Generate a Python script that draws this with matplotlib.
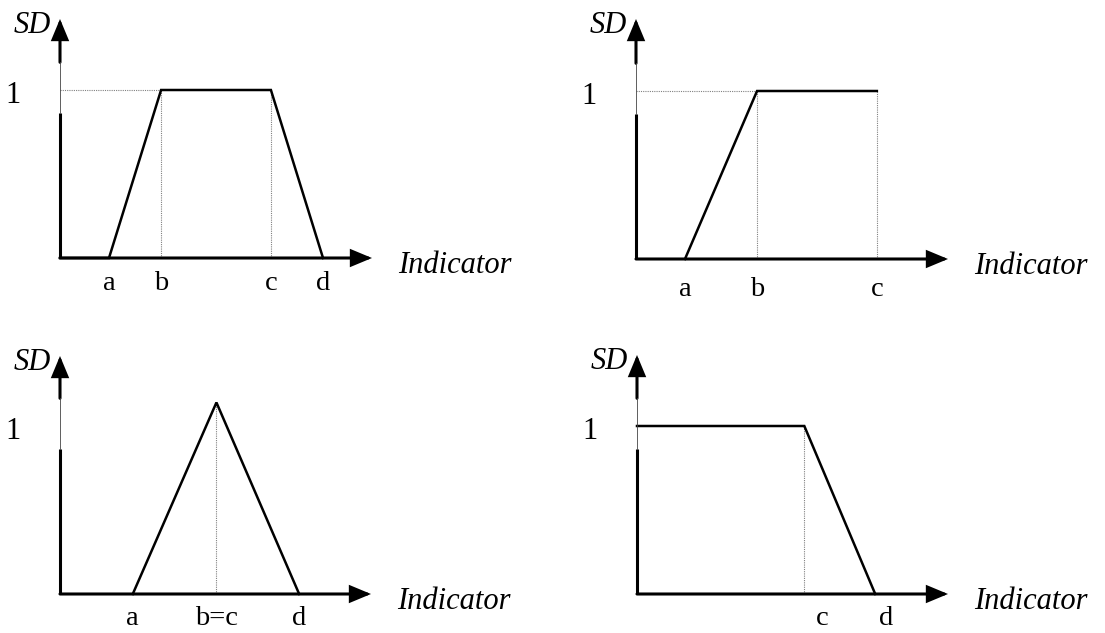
import matplotlib
matplotlib.use("Agg")
import matplotlib.pyplot as plt
from matplotlib.patches import FancyArrowPatch

plt.rcParams['font.family'] = ['Liberation Serif', 'DejaVu Serif']

# ---------------- data (x in axis units 0..10, y: membership, 1 = "1") -------------
# Panel 1: trapezoid
p1_x = [0.0, 1.57, 3.24, 6.76, 8.43]
p1_y = [0.0, 0.0, 1.0, 1.0, 0.0]
p1_ticks = [1.57, 3.24, 6.76, 8.43]
p1_labels = ['a', 'b', 'c', 'd']
p1_drop = [3.24, 6.76]          # dotted verticals
p1_hguide = 3.24                # dotted horizontal to b

# Panel 2: rising ramp then plateau
p2_x = [1.57, 3.88, 7.72]
p2_y = [0.0, 1.0, 1.0]
p2_ticks = [1.57, 3.88, 7.72]
p2_labels = ['a', 'b', 'c']
p2_drop = [3.88, 7.72]
p2_hguide = 3.88

# Panel 3: triangle
p3_x = [2.34, 5.03, 7.69]
p3_y = [0.0, 1.14, 0.0]
p3_ticks = [2.34, 5.03, 7.69]
p3_labels = ['a', 'b=c', 'd']
p3_drop = [5.03]
p3_hguide = None

# Panel 4: plateau then falling ramp
p4_x = [0.0, 5.38, 7.66]
p4_y = [1.0, 1.0, 0.0]
p4_ticks = [5.38, 7.66]
p4_labels = ['c', 'd']
p4_label_shift = [18, 11]       # label offsets (px) seen in the picture
p4_drop = [5.38]
p4_hguide = None

panels = [
    dict(x=p1_x, y=p1_y, ticks=p1_ticks, labels=p1_labels, drop=p1_drop,
         hguide=p1_hguide, shift=None),
    dict(x=p2_x, y=p2_y, ticks=p2_ticks, labels=p2_labels, drop=p2_drop,
         hguide=p2_hguide, shift=None),
    dict(x=p3_x, y=p3_y, ticks=p3_ticks, labels=p3_labels, drop=p3_drop,
         hguide=p3_hguide, shift=None),
    dict(x=p4_x, y=p4_y, ticks=p4_ticks, labels=p4_labels, drop=p4_drop,
         hguide=p4_hguide, shift=p4_label_shift),
]

# ---------------- layout (pixels) ----------------
W, H = 1105, 633
DPI = 100
PX = 72.0 / DPI   # points per pixel
UNIT_PX = 168     # pixels per membership unit
# origin x, origin y, arrow tip x, arrow tip y, tick-label gap
frames = [
    (60, 258, 372, 19, 32),
    (636, 259, 948, 19, 37),
    (60, 594, 371, 356, 31),
    (637, 594, 948, 355, 31),
]
GAP = (0.865, 1.165)

fig = plt.figure(figsize=(W / DPI, H / DPI), dpi=DPI)
fig.patch.set_facecolor('white')

for p, (ox, oy, tx, ty, tgap) in zip(panels, frames):
    ymax = (oy - ty) / UNIT_PX
    ax = fig.add_axes([ox / W, (H - oy) / H, (tx - ox) / W, (oy - ty) / H])
    ax.set_xlim(0, 10)
    ax.set_ylim(0, ymax)
    ax.axis('off')

    # guides (dotted)
    if p['hguide'] is not None:
        ax.plot([0, p['hguide']], [1, 1], color='#808080', lw=0.8,
                ls=(0, (1, 1)), clip_on=False, zorder=1)
    for xv in p['drop']:
        top = max(yv for xx, yv in zip(p['x'], p['y']) if abs(xx - xv) < 1e-9)
        ax.plot([xv, xv], [0, top], color='#808080', lw=0.8,
                ls=(0, (1, 1)), clip_on=False, zorder=1)

    # membership curve
    ax.plot(p['x'], p['y'], color='black', lw=1.8, clip_on=False, zorder=3,
            solid_joinstyle='miter')

    # axes with arrows
    arrow_kw = dict(arrowstyle='-|>,head_length=12,head_width=5',
                    mutation_scale=1, lw=2.2, color='black',
                    shrinkA=0, shrinkB=0, joinstyle='miter',
                    transform=ax.transData, clip_on=False, zorder=4)
    ax.add_patch(FancyArrowPatch((0, 0), (10, 0), **arrow_kw))
    ax.add_patch(FancyArrowPatch((0, GAP[1]), (0, ymax), **arrow_kw))
    ax.plot([0, 0], [0, GAP[0]], color='black', lw=2.2, clip_on=False,
            zorder=4, solid_capstyle='butt')
    ax.plot([0, 0], [GAP[0], GAP[1]], color='#444444', lw=0.6, clip_on=False,
            zorder=4)

    # tick labels
    shifts = p['shift'] or [0] * len(p['ticks'])
    for xv, lab, sh in zip(p['ticks'], p['labels'], shifts):
        ax.annotate(lab, xy=(xv, 0), xytext=(sh * PX, -tgap * PX),
                    textcoords='offset points', ha='center', va='baseline',
                    fontsize=20.5, annotation_clip=False)

    # "1" label
    ax.annotate('1', xy=(0, 1), xytext=(-39 * PX, -13 * PX),
                textcoords='offset points', ha='right', va='baseline',
                fontsize=22, annotation_clip=False)

    # axis titles
    ax.annotate('SD', xy=(0, ymax), xytext=(-9 * PX, -14 * PX),
                textcoords='offset points', ha='right', va='baseline',
                fontsize=22, style='italic', annotation_clip=False)
    ax.annotate('Indicator', xy=(10, 0), xytext=(26 * PX, -15 * PX),
                textcoords='offset points', ha='left', va='baseline',
                fontsize=22, style='italic', annotation_clip=False)

fig.savefig('out.png', dpi=DPI, facecolor='white')
